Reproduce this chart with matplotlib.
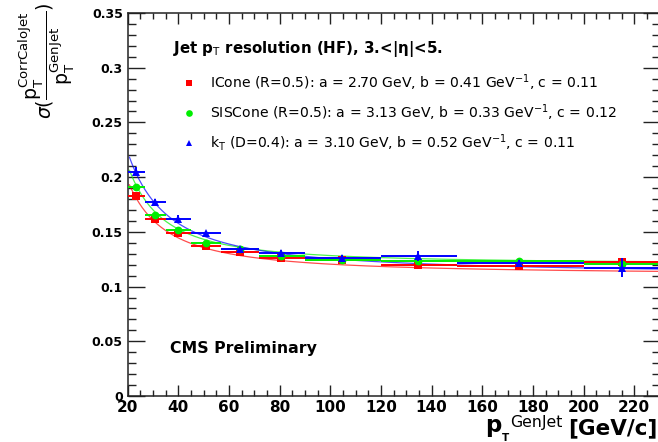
import numpy as np
import matplotlib
matplotlib.use("Agg")
import matplotlib.pyplot as plt
from matplotlib.lines import Line2D
from matplotlib.ticker import MultipleLocator, FuncFormatter

# pT(GenJet) bins and mean pT per bin
bin_lo = np.array([20, 27, 35, 45, 57, 72, 90, 120, 150, 200])
bin_hi = np.array([27, 35, 45, 57, 72, 90, 120, 150, 200, 250])
pt_mean = np.array([23.2, 30.8, 39.7, 50.8, 64.3, 80.5, 104.5, 134.5, 174.5, 215.0])

# resolution per algorithm
res_icone = np.array([0.183, 0.162, 0.149, 0.137, 0.132, 0.126, 0.1245, 0.120, 0.119, 0.122])
err_icone = np.array([0.003, 0.002, 0.002, 0.002, 0.002, 0.002, 0.002, 0.002, 0.002, 0.003])
res_siscone = np.array([0.191, 0.165, 0.152, 0.140, 0.134, 0.128, 0.1246, 0.123, 0.1234, 0.1204])
err_siscone = np.array([0.003, 0.002, 0.002, 0.002, 0.002, 0.002, 0.002, 0.002, 0.002, 0.003])
res_kt = np.array([0.205, 0.177, 0.162, 0.149, 0.134, 0.131, 0.1264, 0.128, 0.1213, 0.1173])
err_kt = np.array([0.004, 0.003, 0.003, 0.002, 0.002, 0.002, 0.002, 0.0043, 0.003, 0.0084])

# fit parameters: sigma = sqrt((a/pT)^2 + b^2/pT + c^2)
algo_names = ["ICone (R=0.5)", "SISCone (R=0.5)", "k$_{\\mathrm{T}}$ (D=0.4)"]
fit_a = [2.70, 3.13, 3.10]
fit_b = [0.41, 0.33, 0.52]
fit_c = [0.11, 0.12, 0.11]

colors = ["#ff0000", "#00ee00", "#0000ff"]
markers = ["s", "o", "^"]
msizes = [5.8, 5.6, 5.2]

W, H = 658, 442
fig = plt.figure(figsize=(W / 100, H / 100), dpi=100)
fig.patch.set_facecolor("white")
ax = fig.add_axes([0.1941, 0.1041, 0.8083, 0.8665])

xerr = [pt_mean - bin_lo, bin_hi - pt_mean]
series = [(res_icone, err_icone), (res_siscone, err_siscone), (res_kt, err_kt)]
xf = np.linspace(20.7, 230, 500)
handles = []
labels = []
for i, (res, err) in enumerate(series):
    yf = np.sqrt((fit_a[i] / xf) ** 2 + fit_b[i] ** 2 / xf + fit_c[i] ** 2)
    ax.plot(xf, yf, color=colors[i], lw=0.9, alpha=0.7, zorder=2)
    ax.errorbar(pt_mean, res, yerr=err, xerr=xerr, fmt=markers[i], color=colors[i],
                ms=msizes[i], mew=0, elinewidth=1.4, capsize=0, zorder=3 + i)
    handles.append(Line2D([], [], ls="none", marker=markers[i], color=colors[i],
                          ms=msizes[i] - 0.8, mew=0))
    labels.append(f"{algo_names[i]}: a = {fit_a[i]:.2f} GeV, b = {fit_b[i]:.2f} GeV$^{{-1}}$, c = {fit_c[i]:.2f}")

ax.set_xlim(20, 230)
ax.set_ylim(0, 0.35)

ax.xaxis.set_major_locator(MultipleLocator(20))
ax.xaxis.set_minor_locator(MultipleLocator(5))
ax.yaxis.set_major_locator(MultipleLocator(0.05))
ax.yaxis.set_minor_locator(MultipleLocator(0.01))
ax.yaxis.set_major_formatter(FuncFormatter(lambda v, p: f"{v:g}"))

ax.tick_params(axis="both", which="both", direction="in", top=True, right=True,
               width=1.0, color="#222222")
ax.tick_params(axis="y", which="major", length=12, pad=3.5, labelsize=9)
ax.tick_params(axis="y", which="minor", length=5.8)
ax.tick_params(axis="x", which="major", length=7.9, pad=3, labelsize=11)
ax.tick_params(axis="x", which="minor", length=4)
for lab in ax.get_xticklabels() + ax.get_yticklabels():
    lab.set_fontweight("bold")
for sp in ax.spines.values():
    sp.set_linewidth(1.1)
    sp.set_color("#222222")

ax.text(0.0857, 0.906, "Jet p$_{\\mathrm{T}}$ resolution (HF), 3.<|\u03b7|<5.",
        transform=ax.transAxes, fontsize=10.8, fontweight="bold", va="center", ha="left")
ax.text(0.0795, 0.1245, "CMS Preliminary", transform=ax.transAxes,
        fontsize=11.3, fontweight="bold", va="center", ha="left")

ax.legend(handles, labels, loc="upper left", bbox_to_anchor=(0.102, 0.845),
          frameon=False, fontsize=10.1, handlelength=1.0, handletextpad=1.0,
          labelspacing=0.66, borderpad=0, borderaxespad=0)

# y-axis title
fig.text(0.072, 0.995,
         r"$\sigma(\dfrac{\mathrm{p}_{\mathrm{T}}^{\mathrm{CorrCaloJet}}}{\mathrm{p}_{\mathrm{T}}^{\mathrm{GenJet}}})$",
         rotation=90, fontsize=13.6, ha="center", va="top")


# x-axis title, assembled from pieces placed in pixel coordinates
def px(x, y):
    return x / W, 1 - y / H


fig.text(*px(657, 434), "[GeV/c]", fontsize=15.5, fontweight="bold",
         ha="right", va="baseline")
fig.text(*px(485, 432), "p", fontsize=16.5, fontweight="bold",
         ha="left", va="baseline")
fig.text(*px(502, 441), "T", fontsize=7.5, fontweight="bold",
         ha="left", va="baseline")
fig.text(*px(510, 427), "GenJet", fontsize=11.3, ha="left", va="baseline")

fig.savefig("out.png", dpi=100)
